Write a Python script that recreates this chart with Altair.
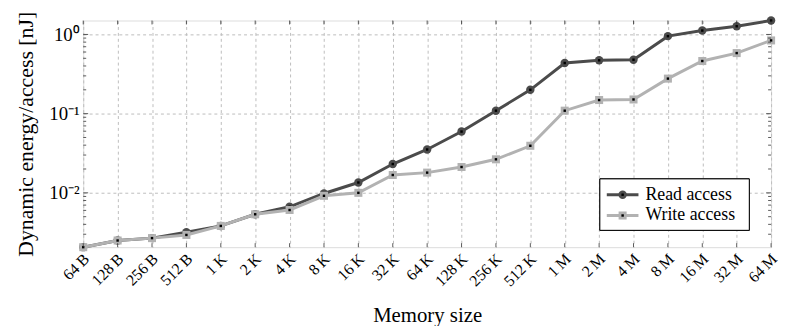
import altair as alt
import pandas as pd

sizes = ["64\u2009B", "128\u2009B", "256\u2009B", "512\u2009B", "1\u2009K", "2\u2009K", "4\u2009K",
         "8\u2009K", "16\u2009K", "32\u2009K", "64\u2009K", "128\u2009K", "256\u2009K", "512\u2009K",
         "1\u2009M", "2\u2009M", "4\u2009M", "8\u2009M", "16\u2009M", "32\u2009M", "64\u2009M"]
read = [0.00206, 0.0025, 0.00268, 0.00318, 0.00382, 0.00536, 0.00667, 0.00982, 0.0135, 0.0231,
        0.0353, 0.0594, 0.109, 0.200, 0.436, 0.472, 0.480, 0.952, 1.12, 1.27, 1.50]
write = [0.00206, 0.0025, 0.00268, 0.00294, 0.00382, 0.00536, 0.00607, 0.00917, 0.0100, 0.0168,
         0.0180, 0.0212, 0.0265, 0.0393, 0.109, 0.1486, 0.151, 0.277, 0.462, 0.582, 0.841]
series_names = ["Read access", "Write access"]
series_colors = ["#4b4b4b", "#b2b2b2"]
series_shapes = ["circle", "square"]
major_ticks = [0.01, 0.1, 1.0]
minor_ticks = [0.003, 0.004, 0.005, 0.006, 0.007, 0.008, 0.009,
               0.02, 0.03, 0.04, 0.05, 0.06, 0.07, 0.08, 0.09,
               0.2, 0.3, 0.4, 0.5, 0.6, 0.7, 0.8, 0.9]
y_domain = [0.00206, 1.50]

W, H = 695, 229
FONT = "Times New Roman, Liberation Serif, serif"

rows = []
for name, vals in zip(series_names, [read, write]):
    for s, v in zip(sizes, vals):
        rows.append({"size": s, "energy": v, "series": name})
df = pd.DataFrame(rows)

xscale = alt.Scale(type="point", domain=sizes, padding=0)
yscale = alt.Scale(type="log", domain=y_domain, nice=False)

x_axis = alt.Axis(grid=True, gridDash=[3, 3], gridColor="#bdbdbd", gridWidth=1,
                  ticks=False, domain=False, labelAngle=-45, labelAlign="right",
                  labelBaseline="middle", labelPadding=9, labelOffset=3, labelFontSize=16,
                  titleFontSize=21, titlePadding=16, labelFont=FONT, titleFont=FONT,
                  titleFontWeight="normal", labelColor="black", titleColor="black")
y_axis = alt.Axis(values=major_ticks, grid=True, gridDash=[3, 3], gridColor="#bdbdbd",
                  gridWidth=1, ticks=False, domain=False,
                  labelExpr="datum.value >= 0.5 ? '10\u2070' : (datum.value >= 0.05 ? '10\u207b\u00b9' : '10\u207b\u00b2')",
                  labelFontSize=19, titleFontSize=22, titlePadding=12, labelPadding=4,
                  labelFont=FONT, titleFont=FONT, titleFontWeight="normal",
                  labelColor="black", titleColor="black")
x_enc = alt.X("size:N", scale=xscale, sort=sizes, title="Memory size", axis=x_axis)
y_enc = alt.Y("energy:Q", scale=yscale, title="Dynamic energy/access [nJ]", axis=y_axis)

base = alt.Chart(df)
layers = []

for name, color, shape in zip(series_names, series_colors, series_shapes):
    sub = base.transform_filter(alt.datum.series == name)
    layers.append(sub.mark_line(color=color, strokeWidth=3).encode(x=x_enc, y=y_enc))
    layers.append(sub.mark_point(shape=shape, filled=True, color=color, opacity=1,
                                 size=72 if shape == "circle" else 66).encode(x=x_enc, y=y_enc))
    layers.append(sub.mark_point(shape="square", filled=True, color="black", opacity=1,
                                 size=6).encode(x=x_enc, y=y_enc))

# inner ticks on y (left and right)
minor_df = pd.DataFrame({"energy": minor_ticks})
major_df = pd.DataFrame({"energy": major_ticks})
for d, ln in [(minor_df, 3), (major_df, 5)]:
    for x0, x1 in [(0, ln), (W - ln, W)]:
        layers.append(alt.Chart(d).mark_rule(color="#333333", strokeWidth=0.8).encode(
            y=y_enc, x=alt.value(x0), x2=alt.value(x1)))

# inner ticks on x (bottom and top)
xt_df = pd.DataFrame({"size": sizes})
for y0, y1 in [(H - 4, H), (0, 4)]:
    layers.append(alt.Chart(xt_df).mark_rule(color="#333333", strokeWidth=0.8).encode(
        x=x_enc, y=alt.value(y0), y2=alt.value(y1)))

# custom legend
leg_df = pd.DataFrame({"series": series_names})
lx0, lx1, ly0, ly1 = 522, 673, 160, 212
layers.append(alt.Chart(leg_df).mark_rect(fill="white", stroke="black", strokeWidth=1).encode(
    x=alt.value(lx0), x2=alt.value(lx1), y=alt.value(ly0), y2=alt.value(ly1)))
row_y = [176, 197]
for name, color, shape, ry in zip(series_names, series_colors, series_shapes, row_y):
    sub = alt.Chart(leg_df).transform_filter(alt.datum.series == name)
    layers.append(sub.mark_rule(color=color, strokeWidth=3).encode(
        x=alt.value(529), x2=alt.value(561), y=alt.value(ry)))
    layers.append(sub.mark_point(shape=shape, filled=True, color=color, opacity=1,
                                 size=72 if shape == "circle" else 66).encode(
        x=alt.value(545), y=alt.value(ry)))
    layers.append(sub.mark_point(shape="square", filled=True, color="black", opacity=1, size=6).encode(
        x=alt.value(545), y=alt.value(ry)))
    layers.append(sub.mark_text(align="left", baseline="middle", font=FONT, fontSize=18,
                                color="black").encode(
        text="series:N", x=alt.value(568), y=alt.value(ry)))

chart = alt.layer(*layers).properties(
    width=W, height=H,
    autosize=alt.AutoSizeParams(type="none"),
    padding={"left": 76, "top": 11, "right": 8, "bottom": 78},
).configure_view(stroke="black", strokeWidth=1.2).configure(
    background="white", font=FONT
)

chart.save("out.html", embed_options={"renderer": "svg", "actions": False})
